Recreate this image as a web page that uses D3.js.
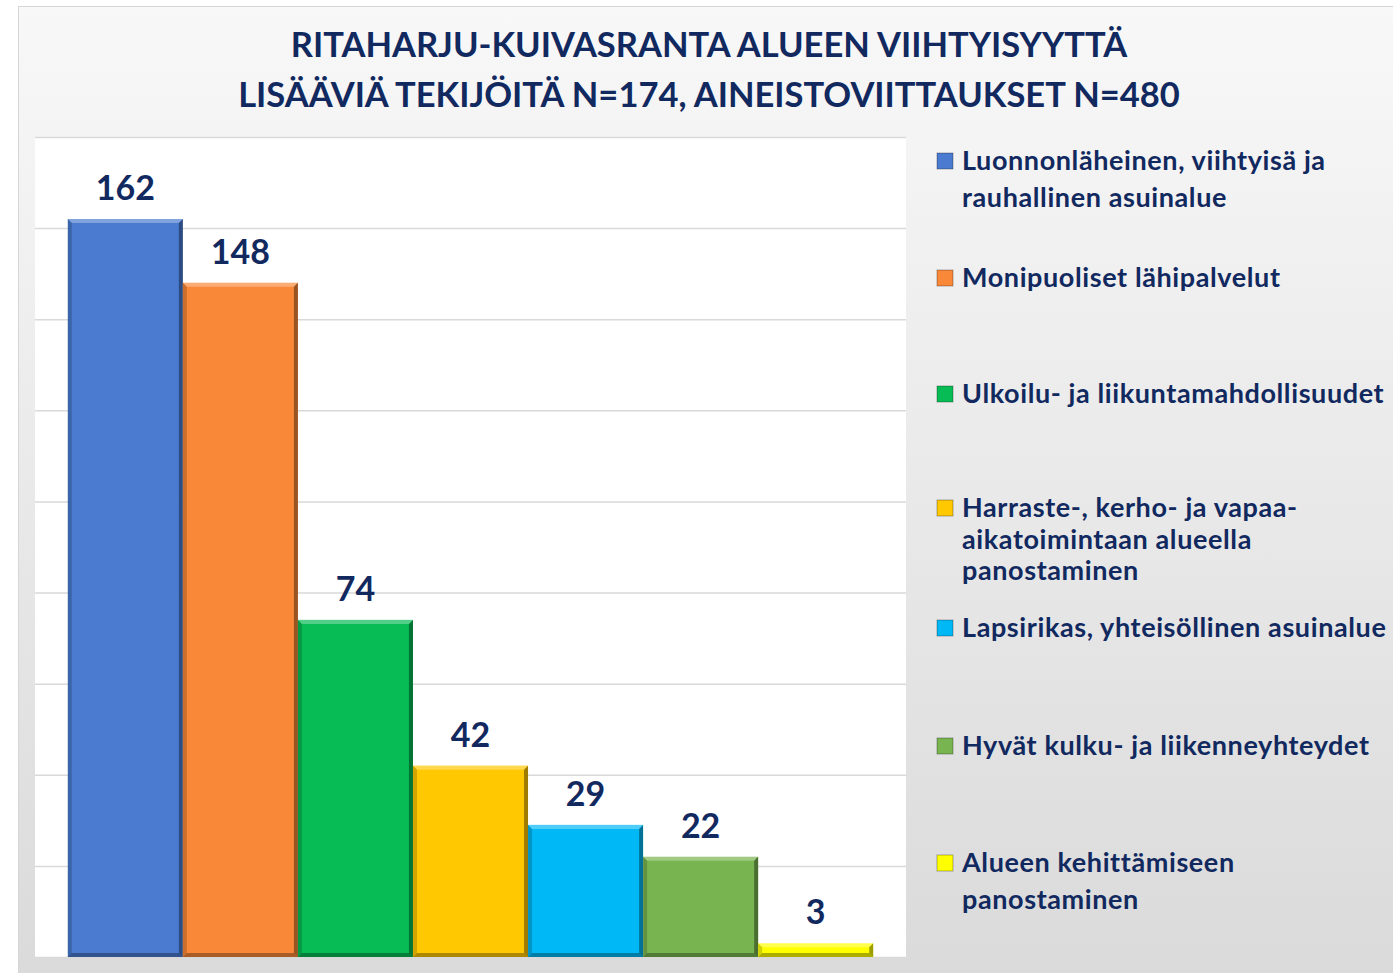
<!DOCTYPE html>
<html>
<head>
<meta charset="utf-8">
<style>
  html, body { margin: 0; padding: 0; background: #fff; }
  svg { display: block; font-family: Lato, "Open Sans", sans-serif; }
</style>
</head>
<body>
<div id="chart"></div>
<script src="https://cdnjs.cloudflare.com/ajax/libs/d3/7.8.5/d3.min.js"></script>
<script>
// data
const titleLines = [
  "RITAHARJU-KUIVASRANTA ALUEEN VIIHTYISYYTTÄ",
  "LISÄÄVIÄ TEKIJÖITÄ N=174, AINEISTOVIITTAUKSET N=480"
];
const categories = [
  "Luonnonläheinen, viihtyisä ja rauhallinen asuinalue",
  "Monipuoliset lähipalvelut",
  "Ulkoilu- ja liikuntamahdollisuudet",
  "Harraste-, kerho- ja vapaa-aikatoimintaan alueella panostaminen",
  "Lapsirikas, yhteisöllinen asuinalue",
  "Hyvät kulku- ja liikenneyhteydet",
  "Alueen kehittämiseen panostaminen"
];
const legendLines = [
  ["Luonnonläheinen, viihtyisä ja", "rauhallinen asuinalue"],
  ["Monipuoliset lähipalvelut"],
  ["Ulkoilu- ja liikuntamahdollisuudet"],
  ["Harraste-, kerho- ja vapaa-", "aikatoimintaan alueella", "panostaminen"],
  ["Lapsirikas, yhteisöllinen asuinalue"],
  ["Hyvät kulku- ja liikenneyhteydet"],
  ["Alueen kehittämiseen", "panostaminen"]
];
const values = [162, 148, 74, 42, 29, 22, 3];
const colors = ["#4a7bd0", "#f98838", "#07bb55", "#ffc800", "#00b8f5", "#78b44f", "#ffff00"];
const yTicks = d3.range(0, 181, 20);

const W = 1393, H = 973;
const textColor = "#11295f";

const svg = d3.select("#chart").append("svg")
  .attr("width", W)
  .attr("height", H);

const defs = svg.append("defs");
const bg = defs.append("linearGradient").attr("id", "bg")
  .attr("x1", 0).attr("y1", 0).attr("x2", 0).attr("y2", 1);
bg.append("stop").attr("offset", "0%").attr("stop-color", "#f8f8f8");
bg.append("stop").attr("offset", "100%").attr("stop-color", "#dadada");

// chart area
svg.append("rect")
  .attr("x", 18.5).attr("y", 6.5)
  .attr("width", W).attr("height", H)
  .attr("fill", "url(#bg)")
  .attr("stroke", "#d6d6d6");

// title
svg.append("text")
  .attr("x", 709).attr("y", 57)
  .attr("text-anchor", "middle")
  .attr("fill", textColor)
  .attr("font-size", 34.5)
  .attr("font-weight", 700)
  .selectAll("tspan")
  .data(titleLines)
  .join("tspan")
  .attr("x", 709)
  .attr("dy", (d, i) => i ? 50 : 0)
  .text(d => d);

// plot area
const plot = { left: 35, right: 906, top: 137, bottom: 957 };

svg.append("rect")
  .attr("x", plot.left).attr("y", plot.top)
  .attr("width", plot.right - plot.left)
  .attr("height", plot.bottom - plot.top)
  .attr("fill", "#fff");

const x = d3.scaleBand()
  .domain(categories)
  .range([plot.left, plot.right])
  .paddingInner(0)
  .paddingOuter(0.285);

const y = d3.scaleLinear()
  .domain([0, 180])
  .range([plot.bottom, plot.top]);

// gridlines
svg.append("g")
  .attr("transform", `translate(${plot.left},0)`)
  .call(d3.axisLeft(y).tickValues(yTicks).tickSize(-(plot.right - plot.left)).tickFormat(""))
  .call(g => g.select(".domain").remove())
  .call(g => g.selectAll(".tick line").attr("stroke", "#d9d9d9").attr("stroke-width", 1.5));

// bars with a bevel
const bars = svg.append("g").selectAll("g")
  .data(categories)
  .join("g");

const bw = x.bandwidth();
const bev = 4;

bars.append("rect")
  .attr("x", d => x(d))
  .attr("y", (d, i) => y(values[i]))
  .attr("width", bw)
  .attr("height", (d, i) => y(0) - y(values[i]))
  .attr("fill", (d, i) => colors[i]);

function bevelPoly(d, i, side) {
  const x0 = x(d), x1 = x(d) + bw;
  const y0 = y(values[i]), y1 = y(0);
  const b = Math.min(bev, (y1 - y0) / 2);
  if (side === "top") return [[x0, y0], [x1, y0], [x1 - b, y0 + b], [x0 + b, y0 + b]];
  if (side === "left") return [[x0, y0], [x0 + b, y0 + b], [x0 + b, y1 - b], [x0, y1]];
  if (side === "right") return [[x1, y0], [x1, y1], [x1 - b, y1 - b], [x1 - b, y0 + b]];
  return [[x0, y1], [x0 + b, y1 - b], [x1 - b, y1 - b], [x1, y1]];
}

const bevels = [
  { side: "top", fill: "#fff", op: 0.3 },
  { side: "left", fill: "#000", op: 0.18 },
  { side: "right", fill: "#000", op: 0.38 },
  { side: "bottom", fill: "#000", op: 0.32 }
];

bevels.forEach(bv => {
  bars.append("polygon")
    .attr("points", (d, i) => bevelPoly(d, i, bv.side).map(p => p.join(",")).join(" "))
    .attr("fill", bv.fill)
    .attr("fill-opacity", bv.op);
});

// value labels
bars.append("text")
  .attr("x", d => x(d) + bw / 2)
  .attr("y", (d, i) => y(values[i]) - 19)
  .attr("text-anchor", "middle")
  .attr("fill", textColor)
  .attr("font-size", 34)
  .attr("font-weight", 700)
  .text((d, i) => values[i]);

// legend
const legendY = [170, 287, 403, 517, 637, 755, 872];
const lineGap = [37, 0, 0, 31.5, 0, 0, 37];

const legend = svg.append("g").selectAll("g")
  .data(categories)
  .join("g");

legend.append("rect")
  .attr("x", 937)
  .attr("y", (d, i) => legendY[i] - 17)
  .attr("width", 16).attr("height", 16)
  .attr("fill", (d, i) => colors[i])
  .attr("stroke", "#000")
  .attr("stroke-opacity", 0.3);

legend.append("text")
  .attr("y", (d, i) => legendY[i])
  .attr("fill", textColor)
  .attr("font-size", 27)
  .attr("letter-spacing", 0.6)
  .attr("font-weight", 700)
  .each(function (d, i) {
    d3.select(this).selectAll("tspan")
      .data(legendLines[i])
      .join("tspan")
      .attr("x", 962)
      .attr("dy", (t, j) => j ? lineGap[i] : 0)
      .text(t => t);
  });
</script>
</body>
</html>
